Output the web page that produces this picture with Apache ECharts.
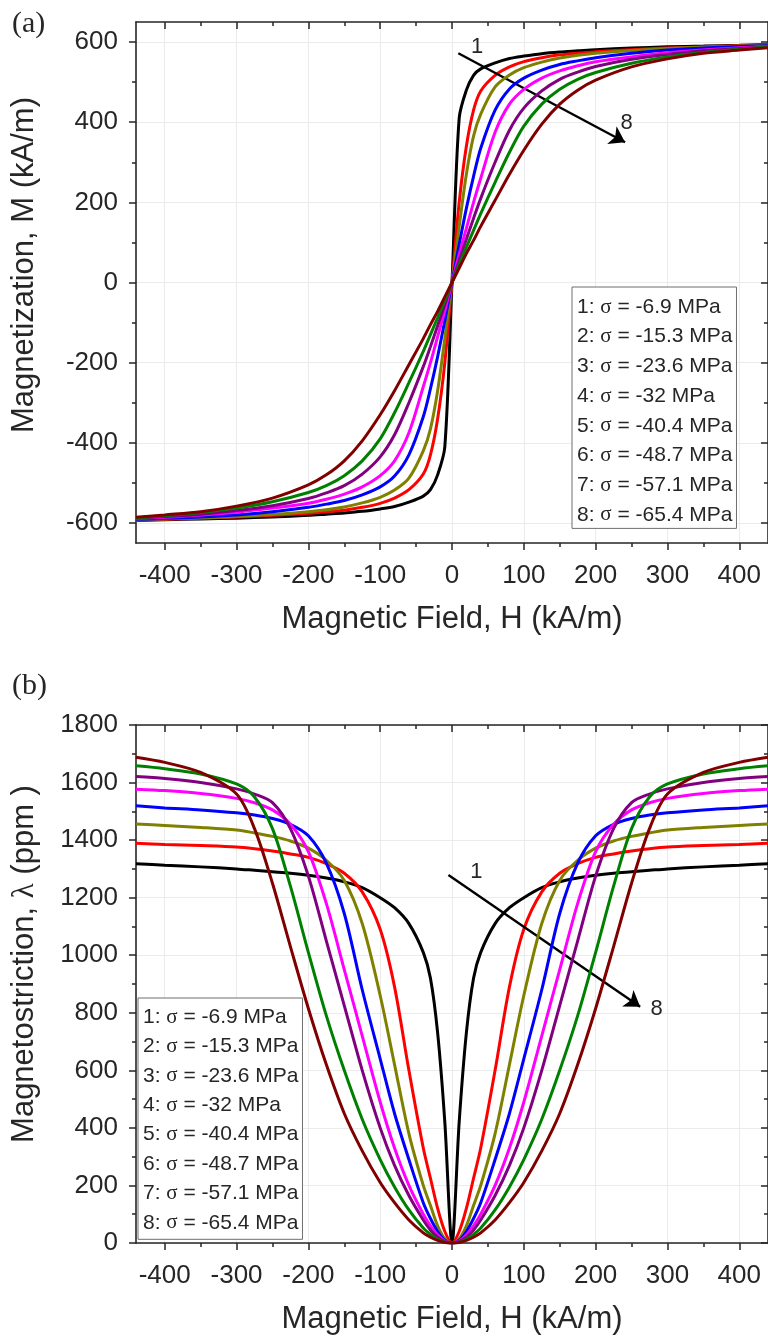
<!DOCTYPE html>
<html>
<head>
<meta charset="utf-8">
<script src="https://cdn.jsdelivr.net/npm/echarts@6/dist/echarts.min.js"></script>
<style>
  html, body { margin: 0; padding: 0; background: #fff; }
  #fig { width: 768px; height: 1341px; }
</style>
</head>
<body>
<div id="fig"></div>
<script>
// applied field H (kA/m) sampled for panel (a) and panel (b)
var fieldA = [-440,-400,-350,-300,-250,-200,-175,-150,-125,-100,-80,-60,-40,-30,-20,-10,0,
  10,20,30,40,60,80,100,125,150,175,200,250,300,350,400,440];
var fieldB = [-440,-400,-350,-300,-275,-250,-225,-200,-175,-150,-125,-100,-80,-60,-40,-30,-20,-10,0,
  10,20,30,40,60,80,100,125,150,175,200,225,250,275,300,350,400,440];

// stress levels (MPa), curve 1 .. 8
var stress = ['-6.9', '-15.3', '-23.6', '-32', '-40.4', '-48.7', '-57.1', '-65.4'];

// (a) magnetization M (kA/m)
var mag1 = [-594,-592,-590,-588,-585,-581,-578,-575,-571,-565,-559,-548,-533,-517,-480,-410,0,410,480,517,533,548,559,565,571,575,578,581,585,588,590,592,594];
var mag2 = [-593,-591,-588,-585,-581,-576,-572,-568,-561,-551,-538,-517,-478,-430,-340,-200,0,200,340,430,478,517,538,551,561,568,572,576,581,585,588,591,593];
var mag3 = [-592,-590,-587,-584,-579,-572,-567,-560,-550,-536,-518,-488,-420,-365,-270,-140,0,140,270,365,420,488,518,536,550,560,567,572,579,584,587,590,592];
var mag4 = [-591,-589,-585,-580,-572,-561,-553,-544,-530,-510,-483,-430,-335,-265,-185,-95,0,95,185,265,335,430,483,510,530,544,553,561,572,580,585,589,591];
var mag5 = [-589,-586,-580,-573,-563,-551,-541,-528,-510,-482,-445,-375,-260,-200,-135,-70,0,70,135,200,260,375,445,482,510,528,541,551,563,573,580,586,589];
var mag6 = [-588,-584,-578,-569,-557,-539,-525,-507,-478,-435,-380,-300,-210,-160,-108,-55,0,55,108,160,210,300,380,435,478,507,525,539,557,569,578,584,588];
var mag7 = [-587,-582,-574,-563,-547,-524,-507,-482,-445,-390,-325,-250,-172,-130,-88,-45,0,45,88,130,172,250,325,390,445,482,507,524,547,563,574,582,587];
var mag8 = [-586,-580,-572,-558,-538,-505,-480,-445,-395,-330,-270,-205,-140,-105,-72,-36,0,36,72,105,140,205,270,330,395,445,480,505,538,558,572,580,586];

// (b) magnetostriction lambda (ppm)
var lam1 = [1318,1313,1307,1300,1295,1290,1285,1278,1268,1255,1235,1200,1165,1110,1010,920,730,420,0,420,730,920,1010,1110,1165,1200,1235,1255,1268,1278,1285,1290,1295,1300,1307,1313,1318];
var lam2 = [1389,1385,1381,1376,1370,1362,1352,1340,1318,1285,1220,1090,890,600,330,225,120,40,0,40,120,225,330,600,890,1090,1220,1285,1318,1340,1352,1362,1370,1376,1381,1385,1389];
var lam3 = [1456,1451,1444,1435,1425,1413,1397,1372,1330,1260,1110,860,620,380,200,130,60,15,0,15,60,130,200,380,620,860,1110,1260,1330,1372,1397,1413,1425,1435,1444,1451,1456];
var lam4 = [1519,1512,1505,1495,1487,1475,1455,1415,1320,1145,880,640,450,290,140,85,40,10,0,10,40,85,140,290,450,640,880,1145,1320,1415,1455,1475,1487,1495,1505,1512,1519];
var lam5 = [1577,1572,1562,1545,1530,1505,1455,1360,1180,950,720,490,330,200,100,60,28,7,0,7,28,60,100,200,330,490,720,950,1180,1360,1455,1505,1530,1545,1562,1572,1577];
var lam6 = [1621,1614,1600,1578,1560,1530,1440,1275,1050,825,600,400,270,165,80,45,20,5,0,5,20,45,80,165,270,400,600,825,1050,1275,1440,1530,1560,1578,1600,1614,1621];
var lam7 = [1658,1648,1630,1595,1550,1440,1240,1010,790,600,430,290,195,115,52,30,13,3,0,3,13,30,52,115,195,290,430,600,790,1010,1240,1440,1550,1595,1630,1648,1658];
var lam8 = [1688,1670,1635,1560,1440,1250,1030,815,620,450,320,210,140,80,35,20,9,2,0,2,9,20,35,80,140,210,320,450,620,815,1030,1250,1440,1560,1635,1670,1688];

// tick values
var hMajor = [-400,-300,-200,-100,0,100,200,300,400];
var hMinor = [-350,-250,-150,-50,50,150,250,350];
var mMajor = [-600,-400,-200,0,200,400,600];
var mMinor = [-500,-300,-100,100,300,500];
var lMajor = [0,200,400,600,800,1000,1200,1400,1600,1800];
var lMinor = [100,300,500,700,900,1100,1300,1500,1700];

var magSets = [mag1, mag2, mag3, mag4, mag5, mag6, mag7, mag8];
var lamSets = [lam1, lam2, lam3, lam4, lam5, lam6, lam7, lam8];
var colors = ['#000000', '#ff0000', '#808000', '#0000ff', '#ff00ff', '#800080', '#008000', '#800000'];
var names = stress.map(function (s, i) { return (i + 1) + ': σ = ' + s + ' MPa'; });

var ink = '#262626';
var sans = '"Liberation Sans", Arial, sans-serif';
var serif = '"Liberation Serif", "Times New Roman", serif';

function axisPair(dim, grid, side, range, majors, minors, extra) {
  var outer = side === 'bottom' || side === 'left';
  var main = {
    type: 'value', gridIndex: grid, position: side, min: range[0], max: range[1],
    axisLine: { show: true, onZero: false, lineStyle: { color: ink, width: 1.6 } },
    axisTick: { show: true, inside: !outer, length: 7, customValues: majors, lineStyle: { color: ink, width: 1.5 } },
    axisLabel: { show: outer, customValues: majors, margin: dim === 'x' ? 20 : 18,
      fontSize: 26, color: ink, fontFamily: sans,
      formatter: function (v) { return String(v); } },
    splitLine: { show: outer, lineStyle: { color: '#ebebeb', width: 1 } }
  };
  Object.assign(main, extra || {});
  var minor = {
    type: 'value', gridIndex: grid, position: side, min: range[0], max: range[1],
    axisLine: { show: false, onZero: false },
    axisTick: { show: true, inside: !outer, length: 4, customValues: minors, lineStyle: { color: ink, width: 1.5 } },
    axisLabel: { show: false },
    splitLine: { show: false }
  };
  return [main, minor];
}

var xName = {
  name: 'Magnetic Field, H (kA/m)', nameLocation: 'middle', nameGap: 61,
  nameTextStyle: { fontSize: 31, color: ink, fontFamily: sans }
};

var xAxes = [].concat(
  axisPair('x', 0, 'bottom', [-440, 440], hMajor, hMinor, xName),
  axisPair('x', 0, 'top', [-440, 440], hMajor, hMinor),
  axisPair('x', 1, 'bottom', [-440, 440], hMajor, hMinor, xName),
  axisPair('x', 1, 'top', [-440, 440], hMajor, hMinor)
);
var yAxes = [].concat(
  axisPair('y', 0, 'left', [-650, 650], mMajor, mMinor, {
    name: 'Magnetization, M (kA/m)', nameLocation: 'middle', nameGap: 96,
    nameTextStyle: { fontSize: 31, color: ink, fontFamily: sans, padding: [0, 0, 0, 35] }
  }),
  axisPair('y', 0, 'right', [-650, 650], mMajor, mMinor),
  axisPair('y', 1, 'left', [0, 1800], lMajor, lMinor, {
    name: 'Magnetostriction, {l|λ} (ppm )', nameLocation: 'middle', nameGap: 96,
    nameTextStyle: { fontSize: 31, color: ink, fontFamily: sans, padding: [0, 0, 0, 40],
      rich: { l: { fontSize: 31, color: ink, fontFamily: serif } } }
  }),
  axisPair('y', 1, 'right', [0, 1800], lMajor, lMinor)
);

var series = [];
magSets.forEach(function (vals, i) {
  series.push({
    type: 'line', name: names[i], xAxisIndex: 0, yAxisIndex: 0,
    data: fieldA.map(function (h, j) { return [h, vals[j]]; }),
    symbol: 'none', smooth: 0.3, z: 3 + i,
    lineStyle: { color: colors[i], width: 3 }, itemStyle: { color: colors[i] }
  });
});
lamSets.forEach(function (vals, i) {
  series.push({
    type: 'line', name: names[i], xAxisIndex: 4, yAxisIndex: 4,
    data: fieldB.map(function (h, j) { return [h, vals[j]]; }),
    symbol: 'none', smooth: 0.3, z: 3 + i,
    lineStyle: { color: colors[i], width: 3 }, itemStyle: { color: colors[i] }
  });
});

function trendArrow(from, to, lab1, lab8) {
  return {
    markLine: {
      silent: true, symbol: ['none', 'arrow'], symbolSize: 15,
      lineStyle: { color: '#000', width: 2.4, type: 'solid' },
      label: { show: false },
      data: [[{ coord: from }, { coord: to }]]
    },
    markPoint: {
      silent: true, symbol: 'circle', symbolSize: 1,
      itemStyle: { color: 'rgba(0,0,0,0)' },
      label: { show: true, position: 'inside', fontSize: 22, color: ink, fontFamily: sans,
        formatter: function (p) { return p.name; } },
      data: [{ name: '1', coord: lab1 }, { name: '8', coord: lab8 }]
    }
  };
}
Object.assign(series[7], trendArrow([8.8, 572], [241, 350], [35, 588], [243, 397]));
Object.assign(series[15], trendArrow([-5, 1279], [262, 821], [34, 1290], [285, 815]));

function legendBox(left, top, gap, padding) {
  return {
    data: names, left: left, top: top, orient: 'vertical', selectedMode: false,
    icon: 'rect', itemWidth: 0, itemHeight: 21, itemGap: gap, padding: padding,
    borderColor: '#6f6f6f', borderWidth: 1, backgroundColor: '#fff',
    formatter: function (n) { return n.replace('σ', '{s|σ}'); },
    textStyle: { fontSize: 21, color: ink, fontFamily: sans,
      rich: { s: { fontSize: 21, color: ink, fontFamily: serif } } }
  };
}

var option = {
  animation: false,
  backgroundColor: '#fff',
  title: [
    { text: '(a)', left: 12, top: 9, padding: 0,
      textStyle: { fontFamily: serif, fontSize: 30, fontWeight: 'normal', color: ink } },
    { text: '(b)', left: 12, top: 671, padding: 0,
      textStyle: { fontFamily: serif, fontSize: 30, fontWeight: 'normal', color: ink } }
  ],
  grid: [
    { left: 136, right: 0, top: 22, height: 521, outerBoundsMode: 'none' },
    { left: 136, right: 0, top: 725, height: 518, outerBoundsMode: 'none' }
  ],
  xAxis: xAxes,
  yAxis: yAxes,
  legend: [
    legendBox(572, 287, 8.7, [9.5, 4, 3, 0]),
    legendBox(138, 998, 8.4, [8.5, 4, 6, 0])
  ],
  series: series
};

var chart = echarts.init(document.getElementById('fig'));
chart.setOption(option);
</script>
</body>
</html>
